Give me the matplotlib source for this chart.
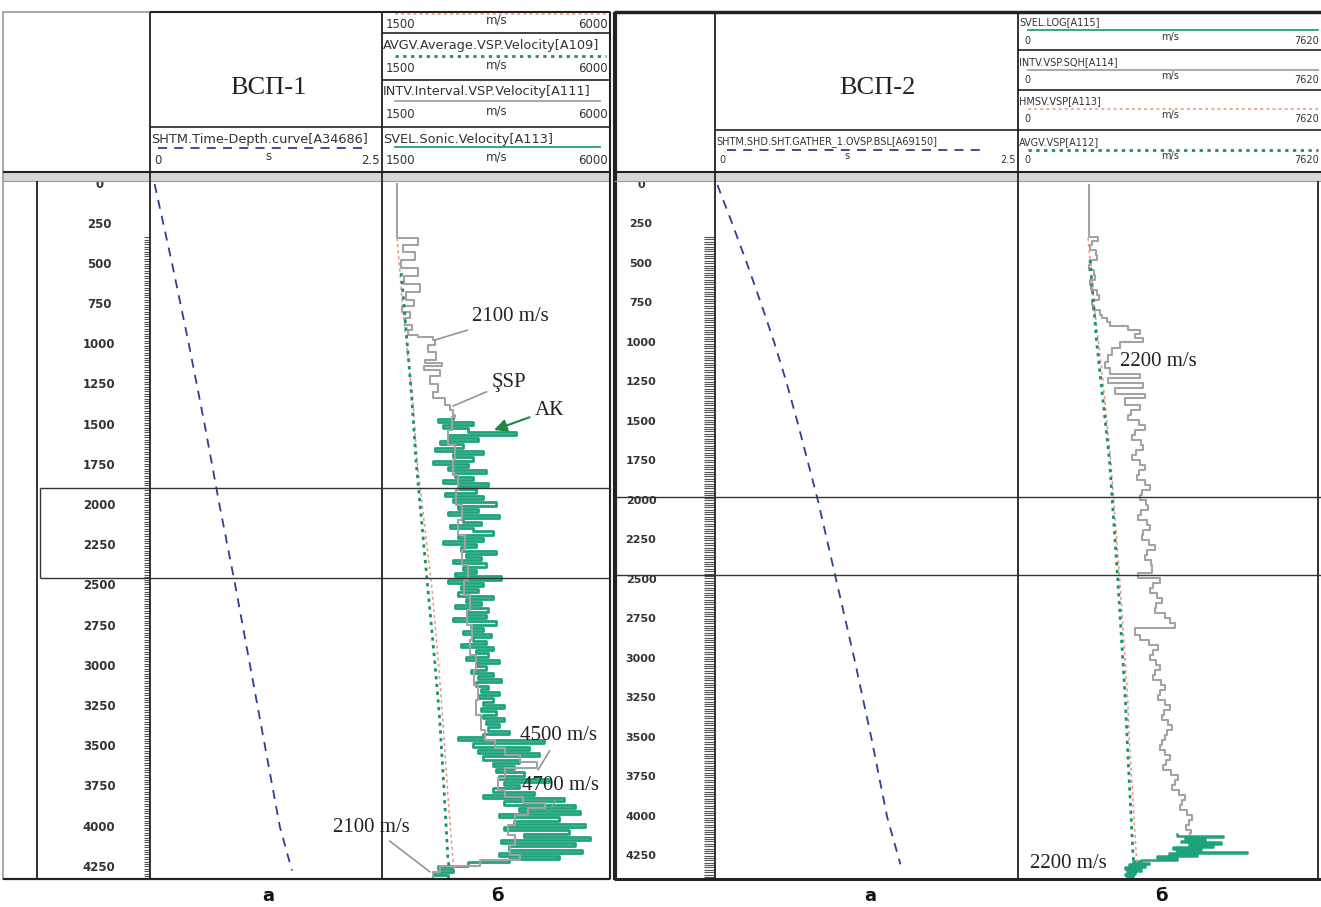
import numpy as np
import matplotlib
matplotlib.use("Agg")
import matplotlib.pyplot as plt
from matplotlib.patches import Rectangle

# ---------------- DATA ----------------
depth_labels = [0, 250, 500, 750, 1000, 1250, 1500, 1750, 2000, 2250,
                2500, 2750, 3000, 3250, 3500, 3750, 4000, 4250]

# VSP-1 (left) time-depth curve: depth (m), one-way time (s)
td1_depth = [0, 500, 1000, 1500, 2000, 2500, 3000, 3500, 4000, 4270]
td1_time = [0.05, 0.24, 0.42, 0.59, 0.75, 0.92, 1.08, 1.24, 1.40, 1.53]

# VSP-2 (right) time-depth curve
td2_depth = [0, 250, 500, 750, 1000, 1250, 1500, 2000, 2500, 3000, 3500, 4000, 4300]
td2_time = [0.02, 0.145, 0.265, 0.38, 0.49, 0.59, 0.68, 0.85, 1.00, 1.15, 1.29, 1.42, 1.53]

# VSP-1 interval velocity (gray, stepped): depth of top of step, velocity
intv1_depth = [0, 336, 379, 423, 473, 522, 572, 622, 672, 721, 759, 796, 833, 877,
               908, 939, 952, 970, 1001, 1045, 1095, 1113, 1132, 1157, 1194, 1244,
               1294, 1331, 1375, 1406, 1437, 1449, 1530, 1623, 1717, 1810, 1903,
               1997, 2090, 2183, 2276, 2370, 2463, 2556, 2650, 2743, 2836, 2930,
               3023, 3116, 3210, 3303, 3396, 3458, 3508, 3552, 3595, 3632, 3695,
               3769, 3813, 3850, 3881, 3925, 3987, 4049, 4111, 4174, 4205, 4242,
               4280, 4323]
intv1_vel = [1800, 2210, 1915, 2150, 1875, 2210, 1935, 2250, 1975, 2130, 1895, 2050,
             1955, 2090, 2015, 2210, 2505, 2545, 2410, 2565, 2350, 2685, 2330, 2645,
             2450, 2605, 2505, 2745, 2840, 2900, 2940, 2880, 2800, 2940, 2900, 3000,
             2960, 3080, 3000, 3140, 3080, 3200, 3120, 3240, 3180, 3280, 3240, 3360,
             3320, 3400, 3360, 3450, 3530, 3730, 3930, 4220, 4560, 3930, 3790, 3930,
             4280, 4720, 4380, 4130, 3990, 4130, 4030, 4220, 3430, 2650, 2510, 2570]

# VSP-1 sonic velocity (green), sampled every 20 m from 1440 m
sonic1_top, sonic1_step = 1440, 20
sonic1_vel = [2900, 2600, 3300, 2700, 3200, 4150, 2800, 3400, 2650, 3100,
              2550, 3500, 2900, 3300, 2500, 3200, 2800, 3550, 2950, 3300,
              2700, 3600, 3000, 3350, 2750, 3500, 2900, 3750, 3000, 3400,
              2800, 3800, 3100, 3450, 2850, 3300, 3700, 3000, 3500, 2700,
              3350, 3050, 3750, 3150, 3450, 2900, 3550, 3100, 3350, 2950,
              3850, 2800, 3500, 3050, 3400, 3000, 3700, 3150, 3450, 2950,
              3600, 3200, 3550, 2900, 3750, 3250, 3500, 3100, 3650, 3300,
              3550, 3050, 3700, 3350, 3600, 3150, 3800, 3350, 3550, 3250,
              3700, 3400, 3850, 3350, 3600, 3450, 3800, 3400, 3700, 3500,
              3900, 3450, 3750, 3500, 3900, 3550, 3800, 3600, 4000, 3500,
              3000, 4700, 3300, 4400, 3400, 4600, 3500, 4200, 3700, 4100,
              3750, 4300, 3800, 4800, 3900, 4200, 3700, 4500, 3500, 5100,
              3900, 5300, 4200, 5400, 3800, 5000, 4100, 5500, 3900, 5200,
              4300, 5600, 3850, 5300, 4000, 5450, 3800, 5000, 4000, 3200,
              2600, 2900, 2500, 2800, 2600]

# VSP-1 average velocities (dotted)
hmsv1_depth = [336, 802, 1344, 1717, 2500, 3000, 3334, 3800, 4205, 4270]
hmsv1_vel = [1800, 1915, 2110, 2190, 2480, 2620, 2700, 2800, 2900, 2950]
avgv1_depth = [554, 1000, 1344, 1717, 2500, 3000, 3334, 3800, 4190, 4240]
avgv1_vel = [1880, 2000, 2090, 2170, 2400, 2550, 2640, 2730, 2800, 2820]

# VSP-2 interval velocity (gray, stepped)
intv2_depth = [0, 329, 355, 380, 410, 443, 475, 506, 540, 570, 600, 633, 665, 696,
               728, 760, 790, 823, 845, 867, 893, 918, 943, 968, 994, 1032, 1076,
               1120, 1158, 1196, 1222, 1253, 1285, 1323, 1348, 1393, 1425, 1456,
               1488, 1519, 1551, 1583, 1615, 1646, 1678, 1709, 1740, 1772, 1804,
               1836, 1868, 1899, 1930, 1962, 1994, 2026, 2058, 2089, 2120, 2152,
               2184, 2216, 2248, 2279, 2310, 2342, 2374, 2405, 2456, 2488, 2520,
               2551, 2582, 2614, 2646, 2678, 2710, 2741, 2773, 2804, 2849, 2880,
               2912, 2944, 2975, 3006, 3038, 3070, 3102, 3134, 3165, 3196, 3228,
               3260, 3292, 3324, 3355, 3386, 3418, 3450, 3482, 3514, 3545, 3576,
               3608, 3640, 3671, 3703, 3735, 3766, 3798, 3830, 3861, 3893, 3925,
               3957, 3988, 4020, 4051, 4080, 4102]
intv2_vel = [1790, 2010, 1860, 1810, 1950, 1990, 1830, 1790, 1900, 1940, 1800, 1840,
             1990, 2040, 1870, 1890, 2060, 2110, 2250, 2310, 2770, 3070, 2940, 3140,
             2570, 2360, 2260, 2190, 2310, 3070, 2260, 3140, 2440, 3190, 2690, 3070,
             2850, 2770, 3050, 3190, 2950, 2870, 3100, 3144, 2960, 2867, 3080, 3194,
             3050, 2993, 3200, 3320, 3120, 3068, 3230, 3270, 3100, 3018, 3240, 3320,
             3150, 3119, 3300, 3446, 3250, 3194, 3350, 3370, 3018, 3571, 3400, 3320,
             3500, 3622, 3480, 3446, 3700, 3823, 3949, 2943, 3068, 3300, 3521, 3400,
             3320, 3480, 3571, 3450, 3395, 3600, 3697, 3560, 3521, 3700, 3823, 3680,
             3622, 3780, 3873, 3750, 3697, 3620, 3571, 3700, 3823, 3720, 3647, 3850,
             4024, 3950, 3873, 4050, 4200, 4120, 4074, 4250, 4376, 4300, 4225, 4350,
             4326]

# VSP-2 sonic log (green), sampled every 10 m from 4110 m
sonic2_top, sonic2_step = 4110, 10
sonic2_vel = [4000, 5150, 4200, 4700, 4100, 5100, 4300, 4900, 3900, 4600,
              4000, 5750, 3800, 4500, 3500, 4000, 3100, 2900, 3300, 2800,
              3200, 2700, 3100, 2750, 2950, 2700, 2900, 2750, 2850]

# VSP-2 average velocities (dotted)
hmsv2_depth = [335, 810, 1200, 1741, 2500, 3260, 3513, 4228, 4300]
hmsv2_vel = [1760, 1937, 2120, 2330, 2560, 2760, 2800, 2970, 2990]
avgv2_depth = [475, 1000, 1741, 2500, 3260, 3513, 4228, 4290]
avgv2_vel = [1810, 1980, 2300, 2510, 2700, 2745, 2890, 2910]

# VSP receiver levels (depth-column tick marks)
receivers1 = np.arange(330, 4330, 15)
receivers2 = np.arange(330, 4400, 15)

# ---------------- STYLE ----------------
C_GREEN = '#1ea37c'
C_GRAY = '#a3a3a3'
C_RED = '#ef9482'
C_GDOT = '#17936c'
C_BLUE = '#2c3f94'
C_LINE = '#222222'
C_TXT = '#333333'

W, H = 1321, 907
fig = plt.figure(figsize=(W / 100, H / 100), dpi=100)


def add_ax(x0, y0, x1, y1, **kw):
    ax = fig.add_axes([x0 / W, 1 - y1 / H, (x1 - x0) / W, (y1 - y0) / H], **kw)
    ax.set_axis_off()
    return ax


def stepped(ax, depth, vel, end_depth, **kw):
    d = list(depth) + [end_depth]
    v = list(vel) + [vel[-1]]
    ax.plot(v, d, drawstyle='steps-pre', **kw)


T_TOP, T_BOT = 181, 879
L_RANGE = (4323, -19)
R_RANGE = (4393, -25)

# ---------- left panel tracks ----------
axLd = add_ax(37, T_TOP, 150, T_BOT)
axLd.set_xlim(0, 1); axLd.set_ylim(*L_RANGE)
for d in depth_labels:
    axLd.text(0.55, d, str(d), ha='center', va='center', fontsize=8.5,
              fontweight='bold', color=C_TXT, family='DejaVu Sans', clip_on=True)
axLd.hlines(receivers1, 0.945, 1.0, color='#555555', lw=0.8)

axL1 = add_ax(150, T_TOP, 382, T_BOT)
axL1.set_xlim(0, 2.5); axL1.set_ylim(*L_RANGE)
axL1.plot(td1_time, td1_depth, color=C_BLUE, lw=1.3, dashes=(5, 4))

axL2 = add_ax(382, T_TOP, 610, T_BOT)
axL2.set_xlim(1500, 6000); axL2.set_ylim(*L_RANGE)
s1_depth = sonic1_top + sonic1_step * np.arange(len(sonic1_vel))
stepped(axL2, s1_depth, sonic1_vel, s1_depth[-1] + sonic1_step, color=C_GREEN, lw=2.0, zorder=2)
stepped(axL2, intv1_depth, intv1_vel, 4330, color=C_GRAY, lw=1.5, zorder=3)
axL2.plot(hmsv1_vel, hmsv1_depth, color=C_RED, lw=1.1, dashes=(2, 2), zorder=4)
axL2.plot(avgv1_vel, avgv1_depth, color=C_GDOT, lw=2.0, dashes=(1.2, 1.6), zorder=4)

serif = 'Liberation Serif'
ann_kw = dict(fontsize=15, family=serif, color='#222222', annotation_clip=False)
gline = dict(arrowstyle='-', color='#8a9a92', lw=1.2, shrinkA=2, shrinkB=0)
axL2.annotate('2100 m/s', xy=(2546, 970), xytext=(3277, 827), ha='left', va='center',
              arrowprops=gline, **ann_kw)
axL2.annotate('ŞSP', xy=(2902, 1381), xytext=(3671, 1232), ha='left', va='center',
              arrowprops=gline, **ann_kw)
axL2.annotate('АК', xy=(3711, 1530), xytext=(4520, 1406), ha='left', va='center',
              arrowprops=dict(arrowstyle='-|>,head_length=0.5,head_width=0.25',
                              color='#1a8a40', lw=1.5, shrinkA=2, shrinkB=0), **ann_kw)
axL2.annotate('4500 m/s', xy=(4579, 3645), xytext=(4224, 3433), ha='left', va='center',
              arrowprops=gline, **ann_kw)
axL2.annotate('4700 m/s', xy=(4856, 3881), xytext=(4264, 3744), ha='left', va='center',
              arrowprops=gline, **ann_kw)
axL2.annotate('2100 m/s', xy=(2447, 4279), xytext=(533, 4000), ha='left', va='center',
              arrowprops=gline, **ann_kw)

# ---------- right panel tracks ----------
axRd = add_ax(615, T_TOP, 715, T_BOT)
axRd.set_xlim(0, 1); axRd.set_ylim(*R_RANGE)
for d in depth_labels:
    axRd.text(0.26, d, str(d), ha='center', va='center', fontsize=8,
              fontweight='bold', color=C_TXT, family='DejaVu Sans', clip_on=True)
axRd.hlines(receivers2, 0.89, 0.99, color='#555555', lw=0.8)

axR1 = add_ax(715, T_TOP, 1018, T_BOT)
axR1.set_xlim(0, 2.5); axR1.set_ylim(*R_RANGE)
axR1.plot(td2_time, td2_depth, color=C_BLUE, lw=1.3, dashes=(5, 4))

axR2 = add_ax(1018, T_TOP, 1321, T_BOT)
axR2.set_xlim(0, 7620); axR2.set_ylim(*R_RANGE)
s2_depth = sonic2_top + sonic2_step * np.arange(len(sonic2_vel))
stepped(axR2, intv2_depth, intv2_vel, sonic2_top, color=C_GRAY, lw=1.5, zorder=3)
stepped(axR2, s2_depth, sonic2_vel, s2_depth[-1] + sonic2_step, color=C_GREEN, lw=1.8, zorder=2)
axR2.plot(hmsv2_vel, hmsv2_depth, color=C_RED, lw=1.1, dashes=(2, 2), zorder=4)
axR2.plot(avgv2_vel, avgv2_depth, color=C_GDOT, lw=2.0, dashes=(1.2, 1.6), zorder=4)
axR2.text(2565, 1120, '2200 m/s', ha='left', va='center', fontsize=15, family=serif, color='#222222')
axR2.text(302, 4292, '2200 m/s', ha='left', va='center', fontsize=15, family=serif, color='#222222')

# ---------- overlay: frames, header ----------
ov = fig.add_axes([0, 0, 1, 1], zorder=10)
ov.set_xlim(0, W); ov.set_ylim(H, 0); ov.set_axis_off()
ov.patch.set_alpha(0)


def hl(y, x0, x1, lw=1.2, c=C_LINE):
    ov.plot([x0, x1], [y, y], color=c, lw=lw, solid_capstyle='butt')


def vl(x, y0, y1, lw=1.2, c=C_LINE):
    ov.plot([x, x], [y0, y1], color=c, lw=lw, solid_capstyle='butt')


# gray separator bands under headers
ov.add_patch(Rectangle((3, 172), 607, 9, facecolor='#d6d6d6', edgecolor='none'))
ov.add_patch(Rectangle((614, 172), 707, 9, facecolor='#d6d6d6', edgecolor='none'))

# left panel frame
ov.add_patch(Rectangle((3, 12), 607, 867, facecolor='none', edgecolor='#9a9a9a', lw=1.2))
hl(12, 150, 610, 1.5)
hl(172, 3, 610, 1.5)
hl(181, 3, 610, 0.8, '#9a9a9a')
hl(879, 3, 610, 1.6)
vl(150, 12, 879, 1.3)
vl(382, 12, 879, 1.3)
vl(610, 12, 879, 1.5)
vl(37, 181, 879, 1.3)
hl(127, 150, 610)
hl(33, 382, 610)
hl(80, 382, 610)
# left zone box
hl(488, 40, 610, 1.0, '#333333')
hl(578, 40, 610, 1.0, '#333333')
vl(40, 488, 578, 1.0, '#333333')

# right panel frame
vl(615, 12, 880, 3.0)
hl(12, 614, 1321, 2.5)
hl(172, 614, 1321, 1.5)
hl(181, 614, 1321, 0.8, '#9a9a9a')
hl(879, 614, 1321, 2.2)
vl(715, 12, 879, 1.3)
vl(1018, 12, 879, 1.3)
vl(1318, 181, 879, 1.3)
hl(130, 715, 1321)
hl(50, 1018, 1321)
hl(90, 1018, 1321)
hl(497, 615, 1321, 1.0, '#333333')
hl(575, 615, 1321, 1.0, '#333333')

# titles
ov.text(268, 88, 'ВСП-1', ha='center', va='center', fontsize=19, family=serif, color='#222222')
ov.text(877, 88, 'ВСП-2', ha='center', va='center', fontsize=19, family=serif, color='#222222')

hf = dict(fontsize=9.3, color=C_TXT, family='DejaVu Sans', va='center')
hs = dict(fontsize=8.5, color=C_TXT, family='DejaVu Sans', va='center')


def scale_row(y, x0, xm, x1, a, m, b, fs=8.5):
    ov.text(x0, y, a, ha='left', **dict(hs, fontsize=fs))
    ov.text(xm, y - 4, m, ha='center', **dict(hs, fontsize=fs))
    ov.text(x1, y, b, ha='right', **dict(hs, fontsize=fs))


# left headers
ov.plot([395, 606], [14, 14], color=C_RED, lw=1.1, dashes=(2, 2))
scale_row(24, 386, 497, 608, '1500', 'm/s', '6000')
ov.text(383, 45, 'AVGV.Average.VSP.Velocity[A109]', ha='left', **hf)
ov.plot([395, 606], [56, 56], color=C_GDOT, lw=2.0, dashes=(1.2, 1.6))
scale_row(69, 386, 497, 608, '1500', 'm/s', '6000')
ov.text(383, 92, 'INTV.Interval.VSP.Velocity[A111]', ha='left', **hf)
ov.plot([395, 600], [101, 101], color=C_GRAY, lw=1.3)
scale_row(115, 386, 497, 608, '1500', 'm/s', '6000')
ov.text(383, 139, 'SVEL.Sonic.Velocity[A113]', ha='left', **hf)
ov.plot([395, 600], [147, 147], color=C_GREEN, lw=1.3)
scale_row(161, 386, 497, 608, '1500', 'm/s', '6000')
ov.text(151, 139, 'SHTM.Time-Depth.curve[A34686]', ha='left', **hf)
ov.plot([158, 365], [148, 148], color=C_BLUE, lw=1.3, dashes=(5, 4))
scale_row(161, 154, 268, 380, '0', 's', '2.5')

# right headers
fr = 7
ov.text(1019, 22, 'SVEL.LOG[A115]', ha='left', **dict(hf, fontsize=fr))
ov.plot([1028, 1318], [30, 30], color=C_GREEN, lw=1.3)
scale_row(41, 1024, 1170, 1319, '0', 'm/s', '7620', fs=fr)
ov.text(1019, 62, 'INTV.VSP.SQH[A114]', ha='left', **dict(hf, fontsize=fr))
ov.plot([1028, 1318], [70, 70], color=C_GRAY, lw=1.3)
scale_row(80, 1024, 1170, 1319, '0', 'm/s', '7620', fs=fr)
ov.text(1019, 101, 'HMSV.VSP[A113]', ha='left', **dict(hf, fontsize=fr))
ov.plot([1028, 1318], [109, 109], color=C_RED, lw=1.1, dashes=(2, 2))
scale_row(119, 1024, 1170, 1319, '0', 'm/s', '7620', fs=fr)
ov.text(1019, 142, 'AVGV.VSP[A112]', ha='left', **dict(hf, fontsize=fr))
ov.plot([1028, 1318], [150, 150], color=C_GDOT, lw=2.0, dashes=(1.2, 1.6))
scale_row(160, 1024, 1170, 1319, '0', 'm/s', '7620', fs=fr)
ov.text(716, 142, 'SHTM.SHD.SHT.GATHER_1.OVSP.BSL[A69150]', ha='left', **dict(hf, fontsize=fr))
ov.plot([727, 985], [150, 150], color=C_BLUE, lw=1.3, dashes=(5, 4))
scale_row(160, 719, 847, 1016, '0', 's', '2.5', fs=fr)

# bottom labels
for x, s in [(268, 'а'), (497, 'б'), (870, 'а'), (1162, 'б')]:
    ov.text(x, 896, s, ha='center', va='center', fontsize=13, fontweight='bold',
            family='DejaVu Sans', color='#111111')

fig.savefig('out.png', dpi=100)
